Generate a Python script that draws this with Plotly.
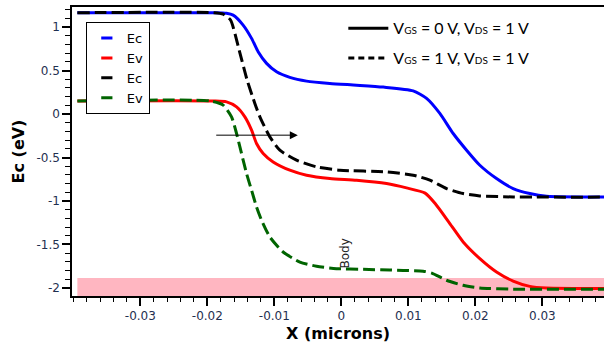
import plotly.graph_objects as go

# ---- data (x in microns, energy in eV) ----
ec0_x = [-0.0394, -0.0190, -0.01713, -0.01615, -0.01466, -0.0134, -0.01242, -0.01116, -0.00967, -0.00769,
         -0.00519, -0.00172, 0.00227, 0.00624, 0.01072, 0.01272, 0.0147, 0.01669, 0.01869, 0.02067,
         0.02316, 0.02564, 0.02813, 0.03063, 0.0392]
ec0_y = [1.166, 1.166, 1.160, 1.139, 1.024, 0.871, 0.717, 0.583, 0.486, 0.422,
         0.379, 0.352, 0.332, 0.310, 0.267, 0.180, 0.007, -0.224, -0.416, -0.589,
         -0.742, -0.857, -0.915, -0.946, -0.954]

ev0_x = [-0.0394, -0.0190, -0.01713, -0.01564, -0.0144, -0.0134, -0.01266, -0.01167, -0.01018, -0.00769,
         -0.00519, -0.00172, 0.00227, 0.00675, 0.00973, 0.0125, 0.0140, 0.01619, 0.01818, 0.02067,
         0.02316, 0.02564, 0.02813, 0.03063, 0.0392]
ev0_y = [0.150, 0.150, 0.140, 0.083, -0.032, -0.185, -0.339, -0.454, -0.551, -0.646,
         -0.704, -0.742, -0.762, -0.800, -0.850, -0.910, -1.030, -1.260, -1.472, -1.664,
         -1.818, -1.922, -1.983, -2.002, -2.009]

ec1_x = [-0.0394, -0.0190, -0.01764, -0.01654, -0.01525, -0.01406, -0.01291, -0.01216, -0.01067, -0.00918,
         -0.00669, -0.0037, -0.00022, 0.00675, 0.01072, 0.01321, 0.0157, 0.01818, 0.02067, 0.02564, 0.0392]
ec1_y = [1.166, 1.166, 1.150, 1.082, 0.736, 0.391, 0.122, -0.032, -0.263, -0.416,
         -0.531, -0.608, -0.646, -0.666, -0.704, -0.761, -0.857, -0.915, -0.942, -0.954, -0.956]

ev1_x = [-0.0394, -0.0195, -0.01764, -0.01639, -0.01564, -0.0149, -0.01415, -0.0134, -0.01266, -0.01191,
         -0.01067, -0.00869, -0.00619, -0.0037, -0.00072, 0.00325, 0.00724, 0.00922, 0.0122, 0.0135,
         0.0157, 0.01818, 0.02067, 0.02564, 0.0392]
ev1_y = [0.150, 0.150, 0.103, -0.032, -0.224, -0.454, -0.684, -0.877, -1.069, -1.222,
         -1.415, -1.588, -1.703, -1.752, -1.779, -1.787, -1.795, -1.800, -1.808, -1.830,
         -1.913, -1.971, -2.002, -2.015, -2.017]

body_band = [-1.887, -2.094]           # y-extent of the pink region
body_band_x = [-0.0394, 0.0392]
arrow_from = (-0.0189, -0.243)
arrow_to = (-0.0065, -0.243)
body_label = (0.0006, -1.60)

x_ticks = [-0.03, -0.02, -0.01, 0, 0.01, 0.02, 0.03]
x_ticktext = ["-0.03", "-0.02", "-0.01", "0", "0.01", "0.02", "0.03"]
y_ticks = [1, 0.5, 0, -0.5, -1, -1.5, -2]
y_ticktext = ["1", "0.5", "0", "-0.5", "-1", "-1.5", "-2"]

fig = go.Figure()

fig.add_shape(type="rect", x0=body_band_x[0], x1=body_band_x[1], y0=body_band[0], y1=body_band[1],
              xref="x", yref="y", fillcolor="#ffb6c1", line_width=0, layer="below")

DASH = "12px,5px"
fig.add_trace(go.Scatter(x=ec0_x, y=ec0_y, mode="lines", line=dict(color="#0000ff", width=3, shape="spline", smoothing=0.6), showlegend=False))
fig.add_trace(go.Scatter(x=ev0_x, y=ev0_y, mode="lines", line=dict(color="#ff0000", width=3, shape="spline", smoothing=0.6), showlegend=False))
fig.add_trace(go.Scatter(x=ec1_x, y=ec1_y, mode="lines", line=dict(color="#000000", width=3, dash=DASH, shape="spline", smoothing=0.6), showlegend=False))
fig.add_trace(go.Scatter(x=ev1_x, y=ev1_y, mode="lines", line=dict(color="#006400", width=3, dash=DASH, shape="spline", smoothing=0.6), showlegend=False))

# legend 1 entries
for name, col in [("Ec", "#0000ff"), ("Ev", "#ff0000"), ("Ec", "#000000"), ("Ev", "#006400")]:
    fig.add_trace(go.Scatter(x=[None], y=[None], mode="markers", name=name,
                             marker=dict(symbol="line-ew", size=8, line=dict(color=col, width=3)),
                             legend="legend"))

# legend 2 entries
lab0 = "V<span style='font-size:10px'>GS</span> = 0 V, V<span style='font-size:10px'>DS</span> = 1 V"
lab1 = "V<span style='font-size:10px'>GS</span> = 1 V, V<span style='font-size:10px'>DS</span> = 1 V"
fig.add_trace(go.Scatter(x=[None], y=[None], mode="lines", name=lab0, line=dict(color="black", width=3),
                         legend="legend2", legendgroup="a"))
fig.add_trace(go.Scatter(x=[None], y=[None], mode="lines", name=lab1, line=dict(color="black", width=3, dash="6px,4px"),
                         legend="legend2", legendgroup="b"))

fig.add_annotation(x=arrow_to[0], y=arrow_to[1], ax=arrow_from[0], ay=arrow_from[1],
                   xref="x", yref="y", axref="x", ayref="y", text="", showarrow=True,
                   arrowhead=2, arrowsize=1.6, arrowwidth=1, arrowcolor="black")
fig.add_annotation(x=body_label[0], y=body_label[1], text="Body", textangle=-90, showarrow=False,
                   font=dict(family="DejaVu Sans", size=12, color="#222222"))

tickfont = dict(family="DejaVu Sans", size=12, color="#1f3050")
fig.update_xaxes(range=[-0.0402, 0.0392], tickvals=x_ticks, ticktext=x_ticktext,
                 ticks="outside", ticklen=8, tickwidth=1.5, tickcolor="black",
                 minor=dict(dtick=0.002, ticks="outside", ticklen=4, tickwidth=1, tickcolor="black"),
                 showline=True, linecolor="black", linewidth=1.5, mirror=True,
                 showgrid=False, zeroline=False, tickfont=tickfont,
                 title=dict(text="<b>X (microns)</b>", font=dict(family="DejaVu Sans", size=16, color="black"), standoff=6))
fig.update_yaxes(range=[-2.094, 1.232], tickvals=y_ticks, ticktext=y_ticktext,
                 ticks="outside", ticklen=8, tickwidth=1.5, tickcolor="black",
                 minor=dict(dtick=0.1, tick0=0, ticks="outside", ticklen=5, tickwidth=1, tickcolor="black"),
                 showline=True, linecolor="black", linewidth=1.5,
                 showgrid=False, zeroline=False, tickfont=tickfont,
                 title=dict(text="<b>Ec (eV)</b>", font=dict(family="DejaVu Sans", size=16, color="black"), standoff=8))

fig.update_layout(
    width=604, height=348,
    margin=dict(l=72, r=0, t=7, b=52),
    paper_bgcolor="white", plot_bgcolor="white",
    legend=dict(x=0.026, y=0.948, xanchor="left", yanchor="top", bgcolor="white",
                bordercolor="black", borderwidth=1, itemwidth=30,
                font=dict(family="DejaVu Sans", size=13, color="black"), tracegroupgap=0),
    legend2=dict(x=0.51, y=0.985, xanchor="left", yanchor="top", bgcolor="rgba(0,0,0,0)",
                 borderwidth=0, itemwidth=40, tracegroupgap=6,
                 font=dict(family="Lato", size=16, color="black")),
)

fig.write_html("out.html")
